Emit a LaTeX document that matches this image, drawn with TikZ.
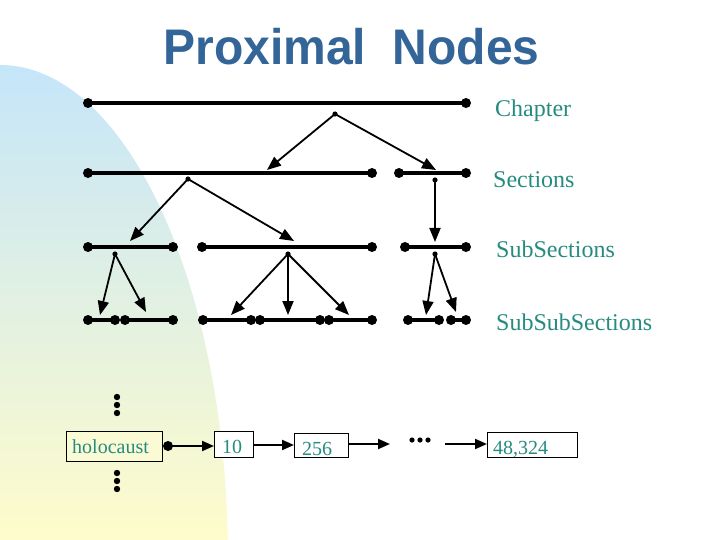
\documentclass[tikz,border=0pt]{standalone}
\usepackage{fontspec}
\setmainfont{Liberation Serif}
\newfontfamily\titlefont{Liberation Sans}
\usetikzlibrary{arrows.meta}
\definecolor{titleblue}{RGB}{52,101,152}
\definecolor{teal1}{RGB}{38,140,128}
\definecolor{bgtop}{RGB}{196,229,250}
\definecolor{bgmid}{RGB}{222,240,228}
\definecolor{bgbot}{RGB}{255,252,202}
\definecolor{boxyellow}{RGB}{250,250,212}
\tikzset{
  seg/.style={line width=4pt},
  arr/.style={line width=1.8pt,-{Triangle[length=14pt,width=11pt]}},
  barr/.style={line width=2pt,-{Triangle[length=12pt,width=10pt]}},
  lbl/.style={text=teal1,font=\fontsize{24}{28}\selectfont,anchor=base west,inner sep=0pt},
  btxt/.style={text=teal1,font=\fontsize{20}{24}\selectfont,anchor=base west,inner sep=0pt},
  box/.style={draw,line width=1.1pt,anchor=north west,inner sep=0pt,fill=white},
}
\begin{document}
\begin{tikzpicture}[x=1pt,y=-1pt]
\useasboundingbox (0,0) rectangle (720,540);
\fill[white] (0,0) rectangle (720,540);
% background shape
\begin{scope}
\clip (0,560) ellipse [x radius=228pt, y radius=495pt];
\shade[top color=bgtop, middle color=bgmid, bottom color=bgbot] (0,60) rectangle (235,545);
\end{scope}
% title
\node[font=\titlefont\bfseries\fontsize{50}{56}\selectfont,text=titleblue,anchor=base,inner sep=0pt] (title) at (351.5,65) {\scalebox{0.96}[1]{Proximal\ \ Nodes}};
% labels
\node[lbl] (lc) at (495,117) {Chapter};
\node[lbl] (ls) at (493,188) {Sections};
\node[lbl] (lu) at (496,257) {SubSections};
\node[lbl] (lv) at (496,330) {SubSubSections};
% coordinates
\coordinate (c1) at (88,103); \coordinate (c2) at (466,103);
\coordinate (s1) at (88,173); \coordinate (s2) at (372,173);
\coordinate (s3) at (399,173); \coordinate (s4) at (466,173);
\coordinate (u1) at (88,247); \coordinate (u2) at (173,247);
\coordinate (u3) at (202,247); \coordinate (u4) at (372,247);
\coordinate (u5) at (405,247); \coordinate (u6) at (466,247);
\coordinate (v1) at (88,320); \coordinate (v2) at (115,320);
\coordinate (v3) at (125,320); \coordinate (v4) at (173,320);
\coordinate (v5) at (203,320); \coordinate (v6) at (251,320);
\coordinate (v7) at (260,320); \coordinate (v8) at (320,320);
\coordinate (v9) at (329,320); \coordinate (v10) at (372,320);
\coordinate (v11) at (408,320); \coordinate (v12) at (439,320);
\coordinate (v13) at (451,320); \coordinate (v14) at (466,320);
% segments
\foreach \a/\b in {c1/c2,s1/s2,s3/s4,u1/u2,u3/u4,u5/u6,v1/v2,v3/v4,v5/v6,v7/v8,v9/v10,v11/v12,v13/v14}
  \draw[seg] (\a) -- (\b);
\foreach \p in {c1,c2,s1,s2,s3,s4,u1,u2,u3,u4,u5,u6,v1,v2,v3,v4,v5,v6,v7,v8,v9,v10,v11,v12,v13,v14}
  \fill (\p) circle[radius=5pt];
% arrow origins
\coordinate (o0) at (335,114);
\coordinate (o1) at (188,179);
\coordinate (o2) at (435,180);
\coordinate (o3) at (115,254);
\coordinate (o4) at (288,254);
\coordinate (o5) at (435,254);
\foreach \p in {o0,o1,o2,o3,o4,o5}
  \fill (\p) circle[radius=2.6pt];
% arrow tips
\coordinate (t1) at (267,170);
\coordinate (t2) at (436,170);
\coordinate (t3) at (130,241);
\coordinate (t4) at (294,241);
\coordinate (t5) at (435,242);
\coordinate (t6) at (100,315);
\coordinate (t7) at (146,312);
\coordinate (t8) at (231,315);
\coordinate (t9) at (288,315);
\coordinate (t10) at (349,315);
\coordinate (t11) at (426,315);
\coordinate (t12) at (456,312);
\foreach \a/\b in {o0/t1,o0/t2,o1/t3,o1/t4,o2/t5,o3/t6,o3/t7,o4/t8,o4/t9,o4/t10,o5/t11,o5/t12}
  \draw[arr] (\a) -- (\b);
% vertical dots
\foreach \y in {397,405,413,473,481,489}
  \fill (117,\y) circle[radius=3.2pt];
% boxes
\node[box,fill=boxyellow,minimum width=96pt,minimum height=30pt] (hb) at (66,431) {};
\node[btxt] (ht) at (72,453) {holocaust};
\node[box,minimum width=39pt,minimum height=26pt] (b10) at (214,431) {};
\node[btxt] (t10t) at (222,453) {10};
\node[box,minimum width=54pt,minimum height=24pt] (b256) at (294,433) {};
\node[btxt] (t256t) at (302,455) {256};
\node[box,minimum width=90pt,minimum height=25pt] (b48) at (487,432) {};
\node[btxt] (t48t) at (493,454) {48,324};
% bottom arrows
\coordinate (hd) at (168,446);
\fill (hd) circle[radius=5pt];
\draw[barr] (hd) -- (b10.west |- hd);
\draw[barr] (b10.east |- 0,445) -- (b256.west |- 0,445);
\coordinate (ae) at (390,444);
\draw[barr] (b256.east |- ae) -- (ae);
\coordinate (d1) at (412,440); \coordinate (d2) at (420,440); \coordinate (d3) at (428,440);
\foreach \p in {d1,d2,d3} \fill (\p) circle[radius=2.6pt];
\coordinate (as) at (445,444);
\draw[barr] (as) -- (b48.west |- as);
\end{tikzpicture}
\end{document}
